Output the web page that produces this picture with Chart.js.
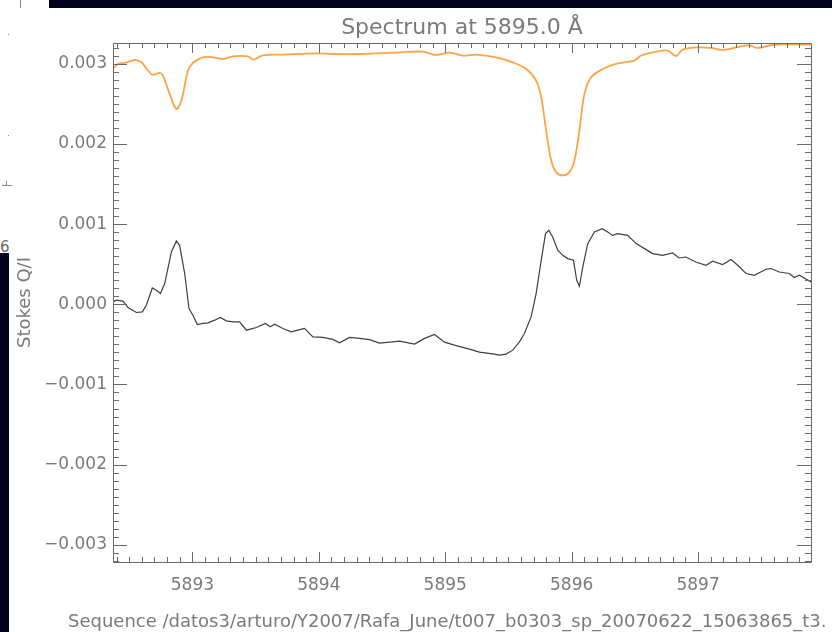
<!DOCTYPE html>
<html>
<head>
<meta charset="utf-8">
<title>Spectrum at 5895.0 Å</title>
<script src="https://cdn.jsdelivr.net/npm/chart.js@4.4.1/dist/chart.umd.min.js"></script>
<style>
  html, body { margin: 0; padding: 0; background: #fff; }
  #wrap { position: relative; width: 832px; height: 632px; overflow: hidden; background: #fff; }
  .bar { position: absolute; background: #02021f; z-index: 2; }
  .mark { position: absolute; background: #8a8a8a; }
  #six { position: absolute; left: 0; top: 238px; font: 15px "DejaVu Sans"; color: #666; }
  canvas { position: absolute; left: 0; top: 0; z-index: 1; }
</style>
</head>
<body>
<div id="wrap">
  <div class="bar" style="left:49px;top:0;width:783px;height:8px"></div>
  <div class="bar" style="left:0;top:253px;width:9px;height:379px"></div>
  <div class="mark" style="left:20px;top:0;width:1px;height:8px"></div>
  <div class="mark" style="left:8px;top:34px;width:1px;height:1px"></div>
  <div class="mark" style="left:8px;top:135px;width:1px;height:1px"></div>
  <div class="mark" style="left:2px;top:185px;width:10px;height:1px"></div>
  <div class="mark" style="left:6px;top:181px;width:1px;height:5px"></div>
  <div id="six">6</div>
  <canvas id="chart" width="832" height="632"></canvas>
</div>
<script>
// wavelength axis (Angstrom) and Stokes values
const iWave = [5892.372, 5892.412, 5892.464, 5892.544, 5892.597, 5892.649, 5892.688, 5892.741, 5892.767,
  5892.820, 5892.873, 5892.913, 5892.965, 5893.004, 5893.083, 5893.163, 5893.242, 5893.321, 5893.439,
  5893.484, 5893.558, 5893.716, 5893.980, 5894.111, 5894.322, 5894.638, 5894.823, 5894.928, 5895.034,
  5895.139, 5895.245, 5895.403, 5895.534, 5895.640, 5895.719, 5895.759, 5895.798, 5895.838, 5895.877,
  5895.930, 5895.982, 5896.022, 5896.061, 5896.101, 5896.154, 5896.246, 5896.351, 5896.457, 5896.496,
  5896.549, 5896.668, 5896.759, 5896.826, 5896.878, 5897.010, 5897.102, 5897.194, 5897.300, 5897.405,
  5897.471, 5897.589, 5897.695, 5897.893]
const iValues = [0.002936, 0.003000, 0.003011, 0.003048, 0.003019, 0.002915, 0.002862, 0.002887, 0.002853,
  0.002625, 0.002438, 0.002542, 0.002915, 0.003011, 0.003081, 0.003081, 0.003061, 0.003093, 0.003093,
  0.003052, 0.003106, 0.003115, 0.003131, 0.003123, 0.003123, 0.003143, 0.003152, 0.003111, 0.003139,
  0.003102, 0.003115, 0.003081, 0.003019, 0.002936, 0.002791, 0.002583, 0.002168, 0.001795, 0.001649,
  0.001608, 0.001649, 0.001795, 0.002168, 0.002625, 0.002832, 0.002936, 0.002999, 0.003027, 0.003040,
  0.003102, 0.003152, 0.003164, 0.003098, 0.003177, 0.003206, 0.003198, 0.003173, 0.003206, 0.003230,
  0.003198, 0.003235, 0.003243, 0.003239]

const qWave = [5892.372, 5892.399, 5892.451, 5892.491, 5892.557, 5892.604, 5892.636, 5892.683, 5892.715,
  5892.747, 5892.781, 5892.834, 5892.873, 5892.899, 5892.939, 5892.973, 5893.004, 5893.039, 5893.083,
  5893.123, 5893.176, 5893.221, 5893.268, 5893.321, 5893.374, 5893.427, 5893.506, 5893.577, 5893.616,
  5893.650, 5893.716, 5893.782, 5893.834, 5893.887, 5893.953, 5894.032, 5894.111, 5894.164, 5894.243,
  5894.322, 5894.401, 5894.480, 5894.638, 5894.757, 5894.836, 5894.915, 5894.994, 5895.073, 5895.191,
  5895.270, 5895.389, 5895.428, 5895.481, 5895.534, 5895.587, 5895.626, 5895.679, 5895.719, 5895.759,
  5895.793, 5895.819, 5895.850, 5895.890, 5895.930, 5895.969, 5896.014, 5896.040, 5896.061, 5896.088,
  5896.127, 5896.180, 5896.241, 5896.285, 5896.324, 5896.364, 5896.443, 5896.510, 5896.589, 5896.640,
  5896.719, 5896.798, 5896.850, 5896.903, 5896.982, 5897.063, 5897.115, 5897.194, 5897.261, 5897.313,
  5897.379, 5897.444, 5897.537, 5897.577, 5897.642, 5897.721, 5897.761, 5897.800, 5897.893]
const qValues = [0.000030, 0.000051, 0.000039, -0.000040, -0.000102, -0.000095, -0.000011, 0.000204, 0.000176,
  0.000134, 0.000259, 0.000653, 0.000790, 0.000736, 0.000384, -0.000052, -0.000136, -0.000252, -0.000239,
  -0.000232, -0.000198, -0.000165, -0.000207, -0.000219, -0.000219, -0.000323, -0.000289, -0.000239, -0.000281,
  -0.000248, -0.000301, -0.000344, -0.000323, -0.000301, -0.000406, -0.000413, -0.000438, -0.000481, -0.000413,
  -0.000426, -0.000440, -0.000484, -0.000459, -0.000497, -0.000425, -0.000376, -0.000472, -0.000509, -0.000559,
  -0.000597, -0.000621, -0.000634, -0.000621, -0.000572, -0.000468, -0.000364, -0.000157, 0.000134, 0.000549,
  0.000882, 0.000923, 0.000839, 0.000674, 0.000611, 0.000570, 0.000549, 0.000300, 0.000225, 0.000466,
  0.000757, 0.000902, 0.000944, 0.000902, 0.000860, 0.000882, 0.000860, 0.000757, 0.000682, 0.000633,
  0.000611, 0.000640, 0.000578, 0.000590, 0.000528, 0.000487, 0.000537, 0.000496, 0.000558, 0.000487,
  0.000384, 0.000362, 0.000437, 0.000446, 0.000403, 0.000384, 0.000334, 0.000362, 0.000279]

const xTicks = [5893, 5894, 5895, 5896, 5897]
const xTickLabels = ['5893', '5894', '5895', '5896', '5897']
const yTicks = [0.003, 0.002, 0.001, 0, -0.001, -0.002, -0.003]
const yTickLabels = ['0.003', '0.002', '0.001', '0.000', '\u22120.001', '\u22120.002', '\u22120.003']

const titleText = 'Spectrum at 5895.0 Å'
const yTitle = 'Stokes Q/I'
const footerText = 'Sequence /datos3/arturo/Y2007/Rafa_June/t007_b0303_sp_20070622_15063865_t3.'

const ink = '#7a7a7a'
const frameColor = '#6a6a6a'

Chart.defaults.font.family = '"DejaVu Sans", sans-serif'
Chart.defaults.color = ink

// IDL-like box with inward ticks, plus title and labels
const idlFrame = {
  id: 'idlFrame',
  afterDatasetsDraw(chart) {
    const { ctx, chartArea: a, scales: { x, y } } = chart
    ctx.save()
    ctx.strokeStyle = frameColor
    ctx.lineWidth = 1
    ctx.beginPath()
    ctx.rect(Math.round(a.left) + 0.5, Math.round(a.top) + 0.5,
      Math.round(a.right - a.left), Math.round(a.bottom - a.top))
    for (let i = 58924; i <= 58978; i++) {
      const px = Math.round(x.getPixelForValue(i / 10)) + 0.5
      const len = i % 10 === 0 ? 10 : 5
      ctx.moveTo(px, a.bottom); ctx.lineTo(px, a.bottom - len)
      ctx.moveTo(px, a.top); ctx.lineTo(px, a.top + len)
    }
    for (let i = -32; i <= 32; i++) {
      const py = Math.round(y.getPixelForValue(i / 10000)) + 0.5
      const len = i % 10 === 0 ? 14 : 6
      ctx.moveTo(a.left, py); ctx.lineTo(a.left + len, py)
      ctx.moveTo(a.right, py); ctx.lineTo(a.right - len, py)
    }
    ctx.stroke()

    ctx.fillStyle = ink
    ctx.textBaseline = 'alphabetic'
    ctx.font = '22px "DejaVu Sans"'
    ctx.textAlign = 'center'
    ctx.fillText(titleText, (a.left + a.right) / 2, 34)

    ctx.font = '18px "DejaVu Sans"'
    ctx.textAlign = 'left'
    ctx.fillText(footerText, 68, 627)

    ctx.save()
    ctx.translate(30, (a.top + a.bottom) / 2)
    ctx.rotate(-Math.PI / 2)
    ctx.textAlign = 'center'
    ctx.font = '18px "DejaVu Sans"'
    ctx.fillText(yTitle, 0, 0)
    ctx.restore()
    ctx.restore()
  }
}

const ctx = document.getElementById('chart').getContext('2d')
new Chart(ctx, {
  type: 'line',
  data: {
    datasets: [
      {
        label: 'Stokes I',
        data: iWave.map((w, i) => ({ x: w, y: iValues[i] })),
        borderColor: '#ffa347',
        borderWidth: 1.8,
        pointRadius: 0,
        tension: 0.35,
        fill: false
      },
      {
        label: 'Stokes Q/I',
        data: qWave.map((w, i) => ({ x: w, y: qValues[i] })),
        borderColor: '#404040',
        borderWidth: 1.2,
        pointRadius: 0,
        tension: 0,
        fill: false
      }
    ]
  },
  options: {
    responsive: false,
    animation: false,
    devicePixelRatio: 1,
    layout: { padding: { left: 0, right: 21, top: 43, bottom: 0 } },
    plugins: {
      legend: { display: false },
      title: { display: false },
      tooltip: { enabled: false }
    },
    scales: {
      x: {
        type: 'linear',
        min: 5892.372,
        max: 5897.893,
        grid: { display: false, drawTicks: false },
        border: { display: false },
        afterBuildTicks: (scale) => { scale.ticks = xTicks.map(v => ({ value: v })) },
        afterFit: (scale) => { scale.height = 70 },
        ticks: {
          padding: 13,
          maxRotation: 0,
          autoSkip: false,
          font: { size: 17 },
          color: ink,
          callback: (v, i) => xTickLabels[i]
        }
      },
      y: {
        type: 'linear',
        min: -0.003215,
        max: 0.00326,
        grid: { display: false, drawTicks: false },
        border: { display: false },
        afterBuildTicks: (scale) => { scale.ticks = yTicks.map(v => ({ value: v })) },
        afterFit: (scale) => { scale.width = 113 },
        ticks: {
          padding: 6,
          autoSkip: false,
          font: { size: 17 },
          color: ink,
          callback: (v, i) => yTickLabels[i]
        }
      }
    }
  },
  plugins: [idlFrame]
})
</script>
</body>
</html>
